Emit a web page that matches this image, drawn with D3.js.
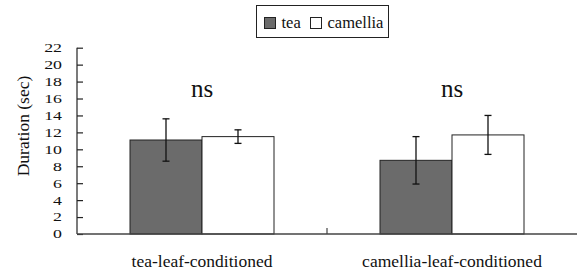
<!DOCTYPE html>
<html>
<head>
<meta charset="utf-8">
<script src="https://cdn.jsdelivr.net/npm/d3@7"></script>
<style>
  body { margin: 0; background: #fff; }
</style>
</head>
<body>
<svg width="578" height="271"></svg>
<script>
var categories = ["tea-leaf-conditioned", "camellia-leaf-conditioned"];
var series = ["tea", "camellia"];
var teaMeans = [11.1, 8.7];
var teaErr = [2.5, 2.8];
var camelliaMeans = [11.5, 11.7];
var camelliaErr = [0.8, 2.3];
var sigLabels = ["ns", "ns"];
var yTicks = [0, 2, 4, 6, 8, 10, 12, 14, 16, 18, 20, 22];

var colors = { tea: "#6b6b6b", camellia: "#ffffff" };
var serif = "'Liberation Serif'";

var svg = d3.select("svg"),
    margin = { left: 77, right: 1, top: 47.7, bottom: 37 },
    width = +svg.attr("width"),
    height = +svg.attr("height"),
    plotBottom = height - margin.bottom;

var rows = [];
categories.forEach(function (c, i) {
    rows.push({ cat: c, key: "tea", value: teaMeans[i], err: teaErr[i] });
    rows.push({ cat: c, key: "camellia", value: camelliaMeans[i], err: camelliaErr[i] });
});

var x0 = d3.scaleBand()
    .domain(categories)
    .range([margin.left, width - margin.right]);

var x1 = d3.scaleBand()
    .domain(series)
    .range([0, 144]);

var y = d3.scaleLinear()
    .domain([0, 22])
    .range([plotBottom, margin.top]);

function barX(d) {
    return x0(d.cat) + x0.bandwidth() / 2 - 72 + x1(d.key);
}

// bars
svg.append("g")
    .selectAll("rect")
    .data(rows)
    .enter().append("rect")
    .attr("x", barX)
    .attr("y", function (d) { return y(d.value); })
    .attr("width", x1.bandwidth())
    .attr("height", function (d) { return y(0) - y(d.value); })
    .attr("fill", function (d) { return colors[d.key]; })
    .attr("stroke", "#222")
    .attr("stroke-width", 1);

// error bars
var eb = svg.append("g")
    .attr("stroke", "#111")
    .attr("stroke-width", 1.3)
    .selectAll("g")
    .data(rows)
    .enter().append("g");

eb.append("line")
    .attr("x1", function (d) { return barX(d) + x1.bandwidth() / 2; })
    .attr("x2", function (d) { return barX(d) + x1.bandwidth() / 2; })
    .attr("y1", function (d) { return y(d.value + d.err); })
    .attr("y2", function (d) { return y(d.value - d.err); });

[1, -1].forEach(function (s) {
    eb.append("line")
        .attr("x1", function (d) { return barX(d) + x1.bandwidth() / 2 - 3.5; })
        .attr("x2", function (d) { return barX(d) + x1.bandwidth() / 2 + 3.5; })
        .attr("y1", function (d) { return y(d.value + s * d.err); })
        .attr("y2", function (d) { return y(d.value + s * d.err); });
});

// y axis (ticks point inward)
var yAxis = svg.append("g")
    .attr("transform", "translate(" + margin.left + ",0)")
    .call(d3.axisRight(y).tickValues(yTicks).tickSize(6).tickFormat(""));
yAxis.selectAll("line, path").attr("stroke", "#222").attr("stroke-width", 1.2);
yAxis.select(".domain").attr("d", "M0," + y(22) + "V" + y(0));

// tick labels: the source font is short and wide
svg.append("g")
    .selectAll("text")
    .data(yTicks)
    .enter().append("text")
    .attr("transform", function (d) { return "translate(62," + (y(d) + 4.4) + ") scale(1.35,1)"; })
    .attr("text-anchor", "end")
    .attr("font-family", serif)
    .attr("font-size", 13.2)
    .attr("fill", "#111")
    .text(function (d) { return d; });

// x axis
svg.append("line")
    .attr("x1", margin.left)
    .attr("x2", width - margin.right)
    .attr("y1", y(0))
    .attr("y2", y(0))
    .attr("stroke", "#444")
    .attr("stroke-width", 1.3);

svg.append("line")
    .attr("x1", x0(categories[1]))
    .attr("x2", x0(categories[1]))
    .attr("y1", y(0))
    .attr("y2", y(0) - 6)
    .attr("stroke", "#444")
    .attr("stroke-width", 1.2);

svg.append("g")
    .selectAll("text")
    .data(categories)
    .enter().append("text")
    .attr("x", function (d) { return x0(d) + x0.bandwidth() / 2; })
    .attr("y", 267)
    .attr("text-anchor", "middle")
    .attr("font-family", serif)
    .attr("font-size", 17.5)
    .attr("fill", "#111")
    .text(function (d) { return d; });

// significance labels
svg.append("g")
    .selectAll("text")
    .data(categories)
    .enter().append("text")
    .attr("x", function (d) { return x0(d) + x0.bandwidth() / 2; })
    .attr("y", 97)
    .attr("text-anchor", "middle")
    .attr("font-family", serif)
    .attr("font-size", 25)
    .attr("fill", "#111")
    .text(function (d, i) { return sigLabels[i]; });

// y title
svg.append("text")
    .attr("transform", "translate(29,126) rotate(-90)")
    .attr("text-anchor", "middle")
    .attr("font-family", serif)
    .attr("font-size", 17.5)
    .attr("fill", "#111")
    .text("Duration (sec)");

// legend
var legend = svg.append("g");
legend.append("rect")
    .attr("x", 256.5).attr("y", 5.5)
    .attr("width", 132).attr("height", 32)
    .attr("fill", "#fff").attr("stroke", "#222");

var legendX = [264, 310];
series.forEach(function (s, i) {
    legend.append("rect")
        .attr("x", legendX[i] + 0.5).attr("y", 17.5)
        .attr("width", 11).attr("height", 11)
        .attr("fill", colors[s]).attr("stroke", "#222");
    legend.append("text")
        .attr("x", legendX[i] + 17.5).attr("y", 28)
        .attr("font-family", serif)
        .attr("font-size", 16.5)
        .attr("fill", "#111")
        .text(s);
});
</script>
</body>
</html>
